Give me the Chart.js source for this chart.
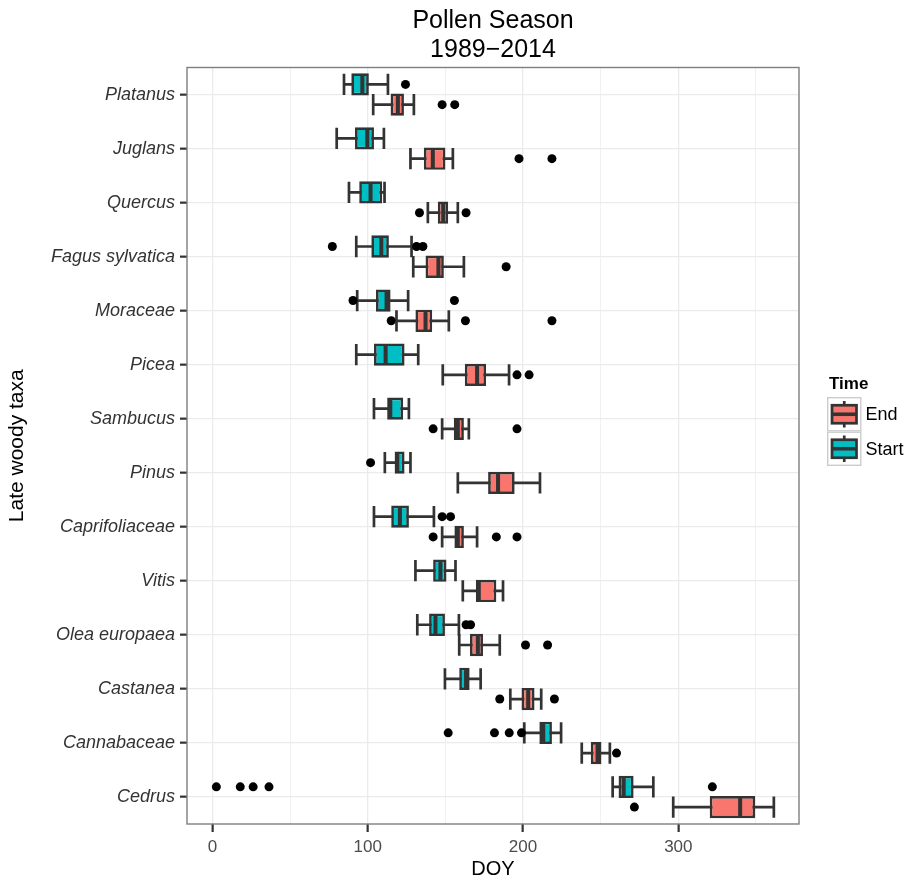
<!DOCTYPE html>
<html>
<head>
<meta charset="utf-8">
<script src="https://cdn.jsdelivr.net/npm/chart.js@4.4.1/dist/chart.umd.min.js"></script>
<style>
  html, body { margin: 0; padding: 0; background: #ffffff; }
  #wrap { width: 909px; height: 881px; }
</style>
</head>
<body>
<div id="wrap"><canvas id="chart" width="909" height="881"></canvas></div>
<script>
// Taxa, top to bottom
const taxa = ['Platanus', 'Juglans', 'Quercus', 'Fagus sylvatica', 'Moraceae', 'Picea', 'Sambucus',
  'Pinus', 'Caprifoliaceae', 'Vitis', 'Olea europaea', 'Castanea', 'Cannabaceae', 'Cedrus'];

// Start of season (DOY): [lower whisker, Q1, median, Q3, upper whisker]
const startStats = [
  [84.7, 89.4, 96.5, 100.7, 113.0],
  [80.0, 91.8, 99.7, 104.0, 110.4],
  [87.9, 94.5, 101.8, 109.3, 110.8],
  [92.6, 102.3, 108.7, 113.6, 128.2],
  [93.2, 105.3, 112.1, 114.7, 126.0],
  [92.6, 104.0, 111.5, 123.7, 132.5],
  [104.0, 112.5, 114.5, 122.8, 126.5],
  [111.0, 117.3, 119.0, 123.7, 127.5],
  [104.0, 115.1, 120.7, 126.5, 142.6],
  [130.7, 142.1, 146.8, 150.7, 156.5],
  [131.9, 139.5, 143.6, 149.7, 158.7],
  [149.7, 158.9, 163.3, 165.6, 172.7],
  [200.8, 210.5, 213.0, 218.6, 224.5],
  [257.7, 261.5, 264.8, 271.2, 283.9]
];
const startOutliers = [
  [124.3], [], [], [77.2, 131.4, 135.5], [90.5, 155.8], [], [],
  [101.8], [147.9, 153.3], [], [163.3, 166.2], [], [151.8, 181.6, 191.1, 199.0],
  [2.5, 17.9, 26.2, 36.4, 321.9]
];

// End of season (DOY): [lower whisker, Q1, median, Q3, upper whisker]
const endStats = [
  [103.5, 114.7, 119.4, 123.3, 129.7],
  [127.5, 136.1, 141.9, 150.0, 154.8],
  [138.7, 145.1, 148.6, 151.8, 158.0],
  [129.3, 137.2, 145.5, 149.0, 161.9],
  [118.5, 130.7, 137.2, 141.5, 152.2],
  [148.3, 162.5, 170.4, 176.2, 191.0],
  [147.9, 155.4, 158.0, 161.9, 165.1],
  [158.0, 177.5, 183.9, 194.6, 210.9],
  [147.9, 155.8, 158.0, 161.9, 170.4],
  [161.2, 169.6, 171.5, 182.8, 187.1],
  [158.9, 165.8, 170.9, 174.2, 185.0],
  [191.8, 199.0, 203.3, 207.4, 211.7],
  [237.8, 243.6, 248.0, 250.5, 255.9],
  [296.7, 320.2, 339.8, 349.5, 361.5]
];
const endOutliers = [
  [147.9, 156.0], [197.4, 218.6], [133.3, 163.3], [189.1], [115.1, 162.9, 218.6],
  [196.1, 203.9], [142.1, 196.1], [], [142.1, 182.8, 196.1], [], [201.6, 215.8],
  [185.0, 220.2], [260.2], [271.7]
];

const xTickValues = [0, 50, 100, 150, 200, 250, 300, 350];
const seriesNames = ['Start', 'End'];
const legendOrder = ['End', 'Start'];

const COL_START = '#00BFC4';
const COL_END = '#F8766D';
const INK = '#333333';
const FONT = "'Liberation Sans', Arial, Helvetica, sans-serif";
const LINE = 2.7;

const statsBySeries = { Start: startStats, End: endStats };
const outliersBySeries = { Start: startOutliers, End: endOutliers };
const fillBySeries = { Start: COL_START, End: COL_END };

// Whiskers under the boxes, medians and outliers on top, panel frame and legend last.
const boxplotParts = {
  id: 'boxplotParts',
  beforeDatasetsDraw(chart) {
    const ctx = chart.ctx;
    const xs = chart.scales.x;
    ctx.save();
    ctx.strokeStyle = INK;
    ctx.lineWidth = LINE;
    ctx.lineCap = 'butt';
    chart.data.datasets.forEach((ds, d) => {
      const stats = statsBySeries[ds.label];
      chart.getDatasetMeta(d).data.forEach((bar, i) => {
        const { y, height } = bar.getProps(['y', 'height'], true);
        const lo = xs.getPixelForValue(stats[i][0]);
        const hi = xs.getPixelForValue(stats[i][4]);
        const h = height / 2 - 0.5;
        ctx.beginPath();
        ctx.moveTo(lo, y); ctx.lineTo(hi, y);
        ctx.moveTo(lo, y - h); ctx.lineTo(lo, y + h);
        ctx.moveTo(hi, y - h); ctx.lineTo(hi, y + h);
        ctx.stroke();
      });
    });
    ctx.restore();
  },
  afterDatasetsDraw(chart) {
    const ctx = chart.ctx;
    const xs = chart.scales.x;
    const area = chart.chartArea;
    ctx.save();
    chart.data.datasets.forEach((ds, d) => {
      const stats = statsBySeries[ds.label];
      const outs = outliersBySeries[ds.label];
      chart.getDatasetMeta(d).data.forEach((bar, i) => {
        const { y, height } = bar.getProps(['y', 'height'], true);
        const m = xs.getPixelForValue(stats[i][2]);
        ctx.strokeStyle = INK;
        ctx.lineWidth = 4;
        ctx.beginPath();
        ctx.moveTo(m, y - height / 2 + 1);
        ctx.lineTo(m, y + height / 2 - 1);
        ctx.stroke();
        ctx.fillStyle = '#000000';
        outs[i].forEach(v => {
          ctx.beginPath();
          ctx.arc(xs.getPixelForValue(v), y, 4.5, 0, Math.PI * 2);
          ctx.fill();
        });
      });
    });
    // panel border
    ctx.strokeStyle = '#7f7f7f';
    ctx.lineWidth = 1.4;
    ctx.strokeRect(area.left, area.top, area.right - area.left, area.bottom - area.top);
    ctx.restore();
  },
  afterDraw(chart) {
    const ctx = chart.ctx;
    ctx.save();
    const lx = 827, ly = 397, key = 34.5;
    ctx.fillStyle = '#000000';
    ctx.font = 'bold 17px ' + FONT;
    ctx.textBaseline = 'middle';
    ctx.textAlign = 'left';
    ctx.fillText('Time', lx + 2, 384);
    legendOrder.forEach((name, k) => {
      const top = ly + k * key;
      ctx.fillStyle = '#ffffff';
      ctx.fillRect(lx, top, key, key);
      ctx.strokeStyle = '#cccccc';
      ctx.lineWidth = 1.4;
      ctx.strokeRect(lx + 0.7, top + 0.7, key - 1.4, key - 1.4);
      const cx = lx + key / 2, cy = top + key / 2;
      ctx.strokeStyle = INK;
      ctx.lineWidth = LINE;
      ctx.beginPath();
      ctx.moveTo(cx, top + 4); ctx.lineTo(cx, top + key - 4);
      ctx.stroke();
      ctx.fillStyle = fillBySeries[name];
      ctx.fillRect(lx + 5, cy - 9, key - 10, 18);
      ctx.strokeRect(lx + 5, cy - 9, key - 10, 18);
      ctx.lineWidth = 3.6;
      ctx.beginPath();
      ctx.moveTo(lx + 5, cy); ctx.lineTo(lx + key - 5, cy);
      ctx.stroke();
      ctx.fillStyle = '#000000';
      ctx.font = '18px ' + FONT;
      ctx.fillText(name, lx + key + 4, cy + 1);
    });
    ctx.restore();
  }
};

const datasets = seriesNames.map(name => ({
  label: name,
  data: statsBySeries[name].map(s => [s[1], s[3]]),
  backgroundColor: fillBySeries[name],
  borderColor: INK,
  borderWidth: LINE,
  borderSkipped: false,
  categoryPercentage: 0.75,
  barPercentage: 1.1
}));

new Chart(document.getElementById('chart'), {
  type: 'bar',
  data: { labels: taxa, datasets },
  plugins: [boxplotParts],
  options: {
    indexAxis: 'y',
    responsive: false,
    animation: false,
    layout: { padding: { left: 0, right: 110, top: 0, bottom: 0 } },
    plugins: {
      legend: { display: false },
      tooltip: { enabled: false },
      title: {
        display: true,
        fullSize: false,
        text: ['Pollen Season', '1989\u22122014'],
        color: '#000000',
        font: { family: FONT, size: 25, weight: 'normal', lineHeight: 1.15 },
        padding: { top: 7, bottom: 3 }
      }
    },
    scales: {
      x: {
        type: 'linear',
        position: 'bottom',
        min: -16.4,
        max: 377.7,
        afterBuildTicks(scale) { scale.ticks = xTickValues.map(v => ({ value: v })); },
        afterFit(scale) { scale.height = 57; },
        ticks: {
          color: '#4d4d4d',
          font: { family: FONT, size: 17 },
          padding: 5,
          maxRotation: 0,
          autoSkip: false,
          callback: v => (v % 100 === 0 ? String(v) : '')
        },
        grid: {
          color: '#ebebeb',
          lineWidth: c => (c.tick && c.tick.value % 100 === 0 ? 1.3 : 0.7),
          tickColor: c => (c.tick && c.tick.value % 100 === 0 ? INK : 'rgba(0,0,0,0)'),
          tickLength: 8,
          tickWidth: 2.2
        },
        border: { display: false },
        title: {
          display: true,
          text: 'DOY',
          color: '#000000',
          font: { family: FONT, size: 20 },
          padding: { top: 0, bottom: 0 }
        }
      },
      y: {
        type: 'category',
        position: 'left',
        afterFit(scale) { scale.width = 187; },
        ticks: {
          color: '#333333',
          font: { family: FONT, size: 18, style: 'italic' },
          padding: 5
        },
        grid: {
          offset: false,
          color: '#ebebeb',
          lineWidth: 1.3,
          tickColor: INK,
          tickLength: 7,
          tickWidth: 2.2
        },
        border: { display: false },
        title: {
          display: true,
          text: 'Late woody taxa',
          color: '#000000',
          font: { family: FONT, size: 21 },
          padding: { top: 5, bottom: 0 }
        }
      }
    }
  }
});
</script>
</body>
</html>
